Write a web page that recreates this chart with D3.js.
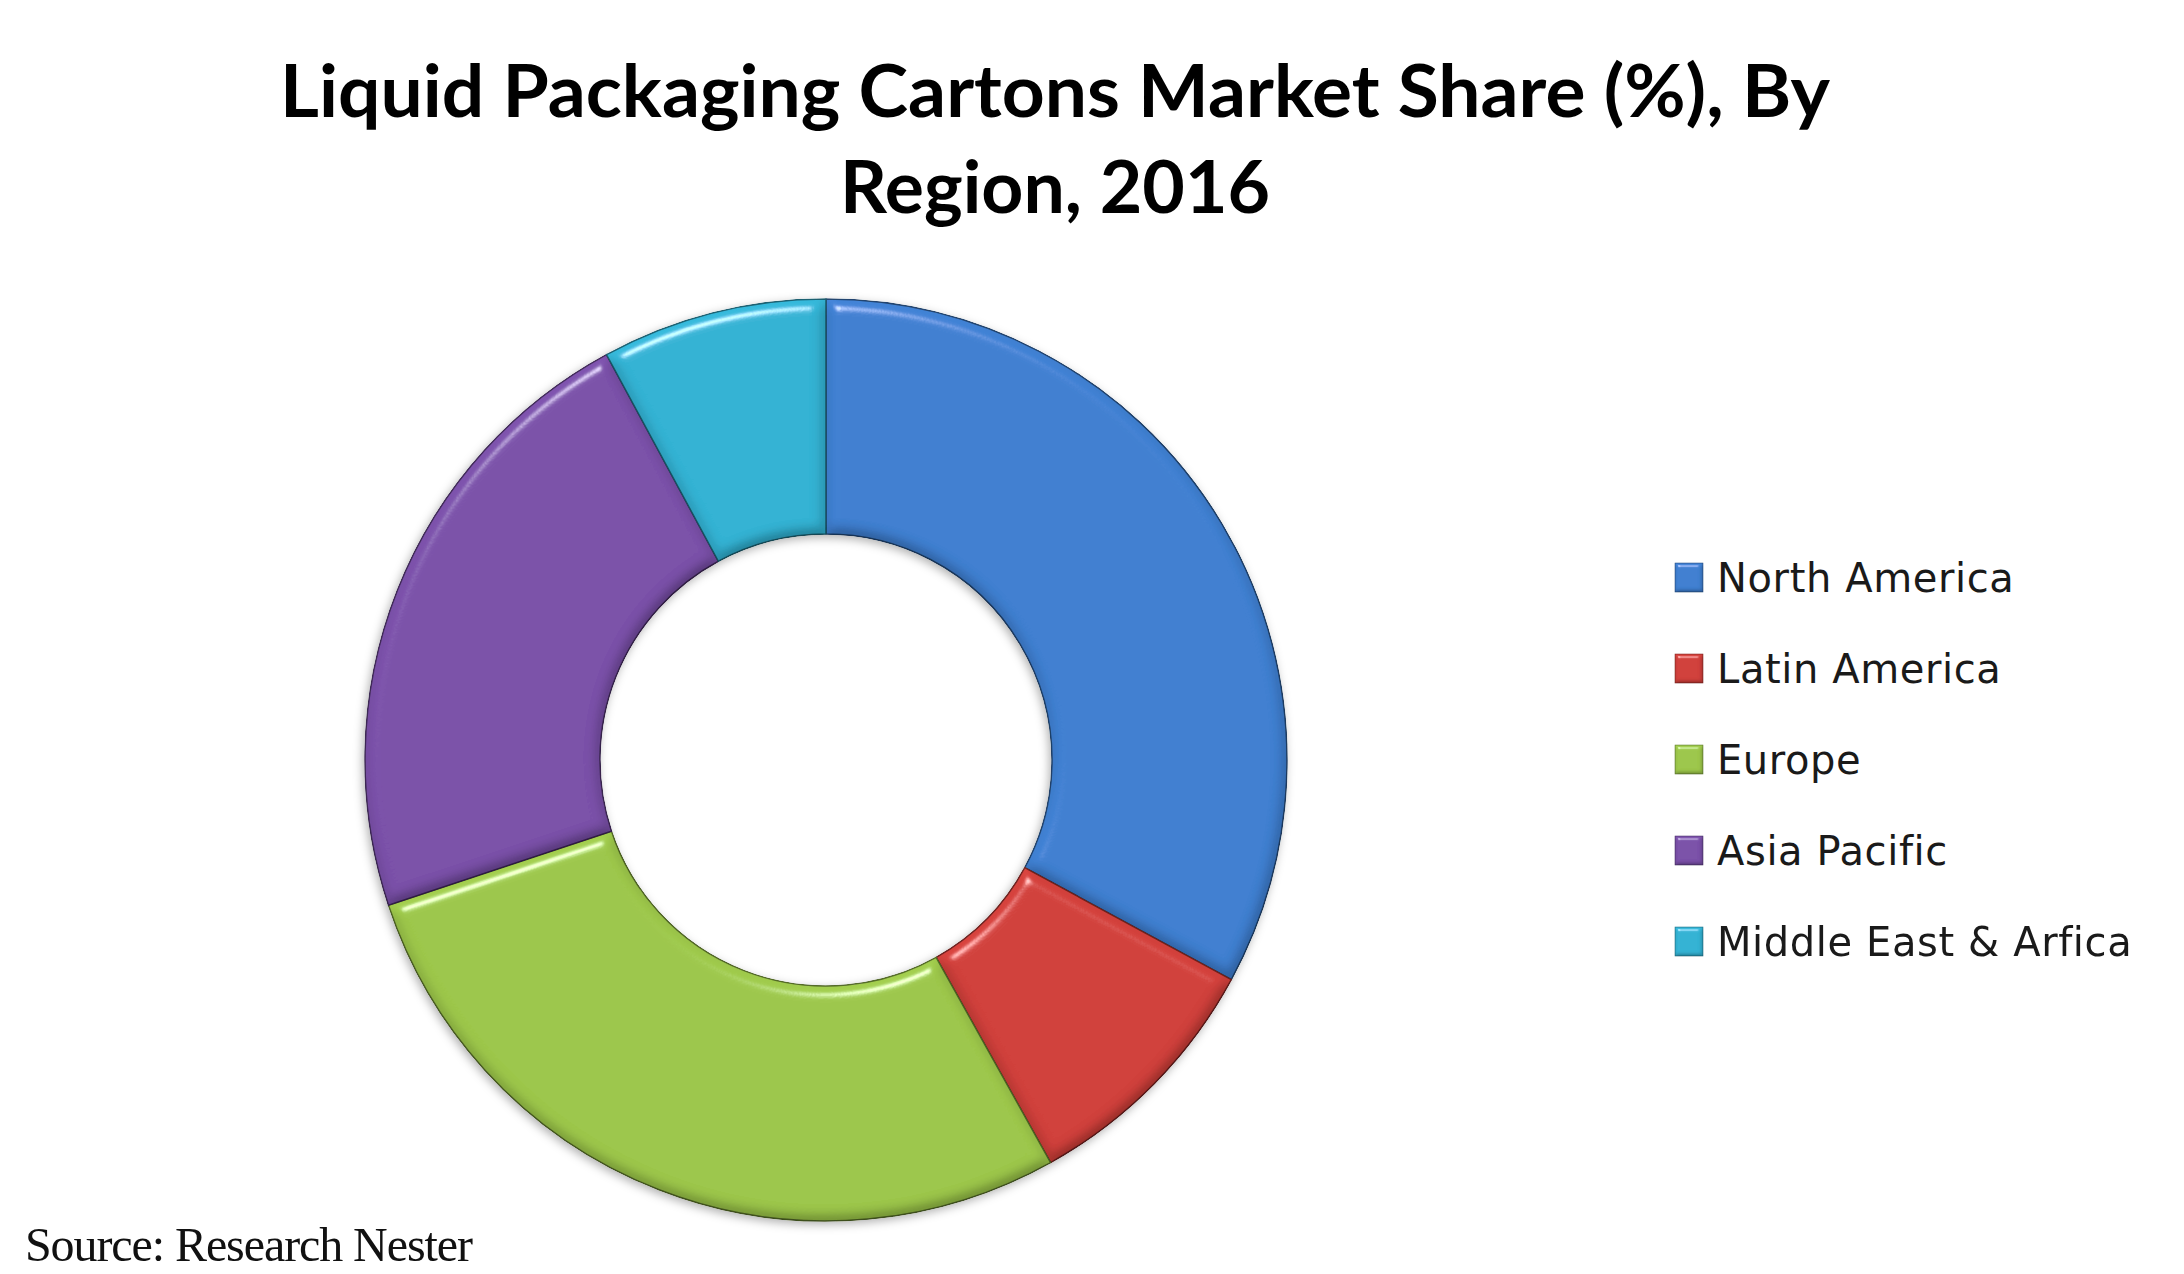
<!DOCTYPE html>
<html>
<head>
<meta charset="utf-8">
<script src="https://cdn.jsdelivr.net/npm/d3@7"></script>
<style>
  html, body { margin: 0; padding: 0; background: #ffffff; }
  svg { display: block; }
</style>
</head>
<body>
<svg id="chart" width="2184" height="1274"></svg>
<script>
// ---- data ----
const titleLines = ["Liquid Packaging Cartons Market Share (%), By", "Region, 2016"];
const regions = ["North America", "Latin America", "Europe", "Asia Pacific", "Middle East & Arfica"];
const shares = [32.9, 9.0, 28.0, 22.2, 7.9];
const colors = ["#3f7fd0", "#d0403b", "#9cc64a", "#7a50a8", "#33b2d3"];
const sourceText = "Source: Research Nester";

// ---- layout ----
const W = 2184, H = 1274;
const cx = 826, cy = 760, R = 461, r = 226;

const svg = d3.select("#chart");
svg.append("rect").attr("width", W).attr("height", H).attr("fill", "#ffffff");

const defs = svg.append("defs");

// bevel filter (soft-round like)
function bevel(id, blur, scale, az) {
  const f = defs.append("filter").attr("id", id)
    .attr("x", "-10%").attr("y", "-10%").attr("width", "120%").attr("height", "120%");
  f.append("feGaussianBlur").attr("in", "SourceAlpha").attr("stdDeviation", blur).attr("result", "blur");
  const spec = f.append("feSpecularLighting").attr("in", "blur")
    .attr("surfaceScale", scale).attr("specularConstant", 0.7)
    .attr("specularExponent", 90).attr("lighting-color", "#ffffff").attr("result", "spec");
  spec.append("feDistantLight").attr("azimuth", az).attr("elevation", 50);
  f.append("feComposite").attr("in", "spec").attr("in2", "SourceAlpha").attr("operator", "in").attr("result", "specOut");
  const diff = f.append("feDiffuseLighting").attr("in", "blur")
    .attr("surfaceScale", scale).attr("diffuseConstant", 1).attr("lighting-color", "#ffffff").attr("result", "diff");
  diff.append("feDistantLight").attr("azimuth", az).attr("elevation", 60);
  f.append("feComposite").attr("in", "SourceGraphic").attr("in2", "diff")
    .attr("operator", "arithmetic").attr("k1", 0.8).attr("k2", 0.31).attr("k3", 0).attr("k4", 0).attr("result", "shaded");
  f.append("feComposite").attr("in", "shaded").attr("in2", "SourceAlpha").attr("operator", "in").attr("result", "shadedIn");
  f.append("feComposite").attr("in", "shadedIn").attr("in2", "specOut")
    .attr("operator", "arithmetic").attr("k1", 0).attr("k2", 1).attr("k3", 0.8).attr("k4", 0);
}
bevel("bevel", 7, 8, 250);
bevel("bevelSmall", 2, 3, 250);

// drop shadow for ring
const sh = defs.append("filter").attr("id", "shadow")
  .attr("x", "-10%").attr("y", "-10%").attr("width", "120%").attr("height", "120%");
sh.append("feDropShadow").attr("dx", -2).attr("dy", 3).attr("stdDeviation", 5)
  .attr("flood-color", "#000").attr("flood-opacity", 0.3);

// ---- title ----
const title = svg.append("g");
const titleY = [117, 213];
const titleW = [1550, 430];
titleLines.forEach((t, i) => {
  title.append("text")
    .attr("x", 1055).attr("y", titleY[i])
    .attr("text-anchor", "middle")
    .attr("font-family", "Lato, 'Open Sans', sans-serif")
    .attr("font-weight", 700)
    .attr("font-size", 73)
    .attr("fill", "#000")
    .attr("textLength", titleW[i])
    .attr("lengthAdjust", "spacingAndGlyphs")
    .text(t);
});

// ---- donut ----
const pie = d3.pie().sort(null).value(d => d.v).startAngle(0).endAngle(2 * Math.PI);
const arc = d3.arc().innerRadius(r).outerRadius(R);
const data = regions.map((name, i) => ({ name, v: shares[i], c: colors[i] }));

const ring = svg.append("g").attr("transform", `translate(${cx},${cy})`).attr("filter", "url(#shadow)");
ring.selectAll("path")
  .data(pie(data))
  .join("path")
  .attr("d", arc)
  .attr("fill", d => d.data.c)
  .attr("stroke", d => d3.color(d.data.c).darker(1.8))
  .attr("stroke-width", 1.5)
  .attr("filter", "url(#bevel)");

// ---- legend ----
const legendX = 1675, legendText = 1717;
const legendBase = [592, 683, 774, 865, 956];
const legend = svg.append("g");
data.forEach((d, i) => {
  legend.append("rect")
    .attr("x", legendX).attr("y", legendBase[i] - 29)
    .attr("width", 28).attr("height", 29)
    .attr("fill", d.c)
    .attr("stroke", d3.color(d.c).darker(1))
    .attr("stroke-width", 1)
    .attr("filter", "url(#bevelSmall)");
  legend.append("text")
    .attr("x", legendText).attr("y", legendBase[i])
    .attr("font-family", "'DejaVu Sans', Verdana, sans-serif")
    .attr("font-size", 40)
    .attr("fill", "#1a1a1a")
    .attr("letter-spacing", 0.6)
    .text(d.name);
});

// ---- source ----
svg.append("text")
  .attr("x", 25).attr("y", 1261)
  .attr("font-family", "'Liberation Serif', 'Times New Roman', serif")
  .attr("font-size", 48)
  .attr("fill", "#111")
  .attr("textLength", 448)
  .attr("lengthAdjust", "spacing")
  .text(sourceText);
</script>
</body>
</html>
